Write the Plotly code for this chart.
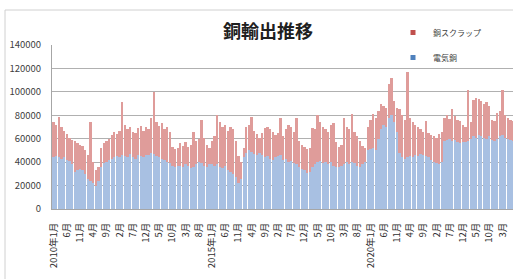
import plotly.graph_objects as go

# monthly values, 2010-01 .. 2024-07
total_2010_2024 = [
    74000, 72000, 78500, 70000, 67000, 64000, 61000, 59000, 58000, 56000, 55000, 54000,
    50000, 46000, 74000, 40000, 33000, 36000, 52000, 56000, 58000, 60000, 63000, 66000,
    64000, 67000, 91000, 72000, 68000, 70000, 66000, 65000, 69000, 71000, 67000, 70000,
    68000, 78000, 100000, 74000, 71000, 73000, 68000, 70000, 66000, 53000, 51000, 52000,
    56000, 54000, 57000, 53000, 55000, 66000, 58000, 60000, 76000, 61000, 55000, 52000,
    58000, 62000, 80000, 74000, 70000, 72000, 67000, 70000, 68000, 58000, 45000, 40000,
    52000, 70000, 72000, 78500, 67000, 64000, 61000, 65000, 69000, 70000, 68000, 66000,
    63000, 65000, 78000, 62000, 68000, 72000, 70000, 66000, 78000, 58000, 55000, 53000,
    51000, 52000, 69000, 68000, 80000, 74000, 70000, 68000, 66000, 72000, 73000, 57000,
    53000, 55000, 78000, 70000, 68000, 81000, 66000, 62000, 58000, 54000, 52000, 70000,
    76000, 81000, 78000, 84000, 90000, 88000, 86000, 107000, 112000, 92000, 86000, 85000,
    80000, 76000, 117000, 78000, 74000, 72000, 70000, 68000, 66000, 75000, 65000, 63000,
    62000, 61000, 64000, 66000, 78000, 80000, 77000, 85000, 79000, 76000, 75000, 72000,
    70000, 102000, 74000, 93000, 95000, 94000, 92000, 90000, 91000, 88000, 76000, 75000,
    82000, 84000, 102000, 80000, 78000, 76000, 75000,
]
denki_dou = [
    44000, 45000, 44000, 43000, 44000, 42000, 41000, 38000, 32000, 33000, 34000, 33000,
    30000, 26000, 24000, 22000, 20000, 24000, 36000, 39000, 40000, 42000, 43000, 44000,
    45000, 44000, 46000, 45000, 44000, 47000, 44000, 43000, 46000, 45000, 44000, 46000,
    46000, 48000, 47000, 45000, 44000, 43000, 42000, 40000, 39000, 37000, 36000, 37000,
    37000, 36000, 38000, 37000, 35000, 36000, 38000, 40000, 39000, 37000, 36000, 38000,
    38000, 37000, 38000, 36000, 35000, 37000, 33000, 32000, 30000, 27000, 22000, 26000,
    44000, 48000, 50000, 49000, 47000, 46000, 48000, 46000, 44000, 45000, 43000, 42000,
    44000, 45000, 46000, 42000, 43000, 40000, 41000, 39000, 38000, 36000, 34000, 33000,
    31000, 32000, 36000, 38000, 40000, 41000, 39000, 40000, 38000, 40000, 37000, 36000,
    36000, 37000, 38000, 40000, 38000, 40000, 39000, 37000, 36000, 38000, 40000, 50000,
    51000, 52000, 50000, 60000, 68000, 72000, 70000, 78000, 80000, 74000, 66000, 48000,
    44000, 43000, 44000, 45000, 44000, 46000, 45000, 47000, 46000, 45000, 44000, 42000,
    40000, 39000, 38000, 40000, 58000, 59000, 60000, 58000, 59000, 57000, 56000, 57000,
    57000, 58000, 60000, 62000, 61000, 63000, 62000, 61000, 60000, 62000, 59000, 58000,
    60000, 62000, 63000, 61000, 60000, 59000, 58000,
]
dou_scrap = [t - b for t, b in zip(total_2010_2024, denki_dou)]
months = list(range(len(denki_dou)))

tick_positions = list(range(0, 171, 5))
tick_labels = [
    "2010年1月", "6月", "11月", "4月", "9月", "2月", "7月", "12月", "5月", "10月", "3月", "8月",
    "2015年1月", "6月", "11月", "4月", "9月", "2月", "7月", "12月", "5月", "10月", "3月", "8月",
    "2020年1月", "6月", "11月", "4月", "9月", "2月", "7月", "12月", "5月", "10月", "3月",
]
y_ticks = [0, 20000, 40000, 60000, 80000, 100000, 120000, 140000]

FONT = "Noto Sans CJK JP"
RED = "#C0504D"
BLUE = "#4F81BD"
RED_BAR = "#DF9C9A"
BLUE_BAR = "#A8C0E2"

fig = go.Figure()
fig.add_trace(go.Bar(x=months, y=denki_dou, name="電気銅", marker_color=BLUE_BAR,
                     marker_line_width=0, showlegend=False))
fig.add_trace(go.Bar(x=months, y=dou_scrap, name="銅スクラップ", marker_color=RED_BAR,
                     marker_line_width=0, showlegend=False))
# legend entries with small square symbols
fig.add_trace(go.Scatter(x=[None], y=[None], mode="markers", name="銅スクラップ",
                         marker=dict(symbol="square", size=5, color=RED),
                         legendgroup="r"))
fig.add_trace(go.Scatter(x=[None], y=[None], mode="markers", name="電気銅",
                         marker=dict(symbol="square", size=5, color=BLUE),
                         legendgroup="b"))

W, H = 513, 279
L, R, T, B = 52, 0, 45, 70
pw, ph = W - L - R, H - T - B


def px(x):
    return (x - L) / pw


def py(y):
    return (H - B - y) / ph


fig.update_layout(
    width=W, height=H,
    margin=dict(l=L, r=R, t=T, b=B, pad=0),
    paper_bgcolor="white", plot_bgcolor="white",
    barmode="stack", bargap=0.12,
    font=dict(family=FONT, color="#404040"),
    title=dict(text="<b>銅輸出推移</b>", x=268 / W, y=1 - 32 / H,
               xref="container", yref="container",
               xanchor="center", yanchor="middle",
               font=dict(size=18, color="#202020", family=FONT)),
    legend=dict(x=px(393), y=py(18), xanchor="left", yanchor="top",
                traceorder="grouped", tracegroupgap=6,
                font=dict(size=8, color="#404040", family=FONT),
                bgcolor="rgba(0,0,0,0)", itemwidth=30),
    showlegend=True,
    xaxis=dict(range=[-0.6, 174.0], tickmode="array", tickvals=tick_positions,
               ticktext=tick_labels, tickangle=-90, ticks="", showgrid=False,
               showline=True, linecolor="#a6a6a6", linewidth=1, zeroline=False,
               tickfont=dict(size=9.5, color="#303030", family=FONT),
               ticklabelstandoff=9),
    yaxis=dict(range=[0, 140000], tickmode="array", tickvals=y_ticks,
               ticktext=[str(v) for v in y_ticks], showgrid=True,
               gridcolor="#b0b0b0", gridwidth=1, showline=True,
               linecolor="#a6a6a6", linewidth=1, zeroline=False, ticks="",
               tickfont=dict(size=9.5, color="#404040", family=FONT),
               ticklabelstandoff=8),
    shapes=[
        dict(type="line", xref="paper", yref="paper", x0=px(5), x1=px(513),
             y0=py(10), y1=py(10), line=dict(color="#d0d0d0", width=1)),
        dict(type="line", xref="paper", yref="paper", x0=px(5), x1=px(5),
             y0=py(10), y1=py(279), line=dict(color="#d0d0d0", width=1)),
    ],
)

fig.write_html("out.html", config={"displayModeBar": False},
               post_script="document.body.style.margin='0px';")
